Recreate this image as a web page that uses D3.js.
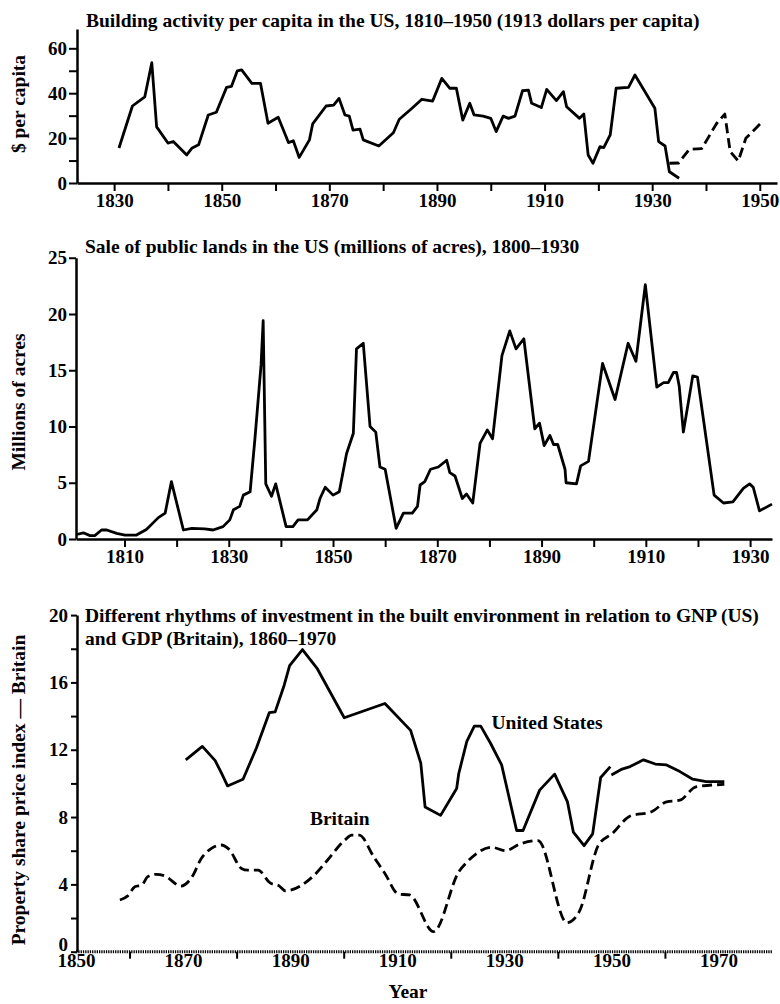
<!DOCTYPE html>
<html>
<head>
<meta charset="utf-8">
<script src="https://cdn.jsdelivr.net/npm/d3@7"></script>
<style>
  body { margin: 0; background: #fff; }
  svg text { font-family: "Liberation Serif", serif; font-weight: bold; fill: #000; }
</style>
</head>
<body>
<div id="chart"></div>
<script>
// --- building activity per capita, US (1913 dollars) ---
const buildYears = [1830.9, 1833.4, 1835.7, 1837.0, 1837.9, 1840.0, 1841.0, 1843.5, 1844.5, 1845.7,
    1847.5, 1849.0, 1850.9, 1851.8, 1852.9, 1853.7, 1855.6, 1857.2, 1858.6, 1860.5,
    1862.4, 1863.3, 1864.4, 1866.3, 1866.9, 1869.4, 1870.8, 1871.8, 1872.9, 1873.7,
    1874.4, 1875.7, 1876.3, 1879.2, 1881.9, 1883.0, 1885.0, 1887.2, 1889.2, 1890.9,
    1892.4, 1893.6, 1894.8, 1896.1, 1896.9, 1898.6, 1900.0, 1901.0, 1902.3, 1903.3,
    1904.5, 1905.9, 1907.0, 1907.6, 1909.4, 1910.4, 1912.2, 1913.5, 1914.1, 1916.5,
    1917.3, 1918.1, 1919.0, 1920.3, 1921.0, 1922.2, 1923.3, 1925.6, 1926.8, 1930.5,
    1931.2, 1932.4, 1933.2, 1935.0];
const buildValues = [15.6, 34.3, 38.4, 53.6, 25.0, 17.8, 18.5, 12.5, 15.6, 17.0,
    30.3, 31.5, 42.6, 43.0, 50.0, 50.4, 44.4, 44.4, 26.6, 29.3,
    18.0, 18.8, 11.4, 19.2, 26.3, 34.3, 34.7, 37.7, 30.3, 29.8,
    23.6, 24.0, 19.2, 16.5, 22.4, 28.4, 32.5, 37.3, 36.5, 46.6,
    42.2, 42.3, 28.0, 35.5, 30.3, 29.8, 28.8, 22.9, 29.8, 28.8,
    29.8, 41.1, 41.4, 35.5, 33.6, 41.7, 36.7, 40.7, 34.0, 28.8,
    30.7, 12.5, 8.8, 16.2, 15.8, 21.4, 42.2, 42.6, 48.1, 33.3,
    18.4, 16.5, 5.0, 2.1];
const buildLateYears = [1933.2, 1934.9, 1936.9, 1939.2, 1942.0, 1943.5, 1944.5, 1946.0, 1947.4, 1950.3];
const buildLateValues = [8.8, 8.9, 15.0, 15.3, 26.6, 30.7, 14.0, 9.8, 19.9, 26.9];

// --- sale of public lands, US (millions of acres) ---
const landYears = [1800.8, 1802.1, 1803.4, 1804.3, 1805.6, 1806.6, 1808.5, 1810.1, 1812.3, 1814.2,
    1816.5, 1817.8, 1819.0, 1821.3, 1822.9, 1825.4, 1827.0, 1828.9, 1830.2, 1830.9,
    1832.1, 1832.8, 1834.1, 1835.0, 1836.2, 1836.6, 1837.1, 1838.2, 1839.0, 1841.0,
    1842.3, 1843.3, 1845.1, 1846.9, 1847.5, 1848.5, 1850.0, 1851.2, 1852.6, 1853.9,
    1854.5, 1855.8, 1857.1, 1858.2, 1859.0, 1860.0, 1862.1, 1863.5, 1865.2, 1866.2,
    1866.7, 1867.6, 1868.7, 1870.2, 1871.8, 1872.4, 1873.4, 1874.8, 1875.6, 1876.8,
    1878.2, 1879.6, 1880.6, 1882.4, 1883.9, 1885.1, 1886.6, 1888.7, 1889.6, 1890.5,
    1891.6, 1892.3, 1893.1, 1894.5, 1894.7, 1896.7, 1897.5, 1899.0, 1901.7, 1904.1,
    1906.6, 1908.1, 1909.9, 1912.1, 1913.4, 1914.3, 1915.3, 1915.9, 1916.4, 1917.2,
    1919.0, 1919.9, 1923.1, 1924.9, 1926.7, 1928.7, 1929.9, 1930.6, 1931.8, 1934.2];
const landValues = [0.4, 0.55, 0.3, 0.3, 0.8, 0.8, 0.5, 0.35, 0.35, 0.85,
    1.9, 2.3, 5.1, 0.8, 0.95, 0.9, 0.8, 1.1, 1.7, 2.6,
    2.9, 3.9, 4.2, 8.8, 15.5, 19.4, 4.9, 3.8, 4.9, 1.1,
    1.1, 1.7, 1.7, 2.6, 3.6, 4.6, 3.9, 4.2, 7.6, 9.4,
    16.9, 17.4, 10.0, 9.5, 6.4, 6.2, 0.95, 2.3, 2.3, 2.9,
    4.8, 5.1, 6.2, 6.4, 7.0, 5.9, 5.6, 3.6, 4.0, 3.2,
    8.5, 9.7, 8.9, 16.3, 18.5, 16.9, 17.8, 9.8, 10.3, 8.3,
    9.2, 8.4, 8.4, 6.2, 5.0, 4.9, 6.5, 6.9, 15.6, 12.4,
    17.4, 15.8, 22.6, 13.5, 13.9, 13.9, 14.8, 14.8, 13.6, 9.5,
    14.5, 14.4, 3.9, 3.2, 3.3, 4.5, 4.9, 4.6, 2.5, 3.1];

// --- property share price index ---
const usYears = [1870.5, 1873.6, 1876.0, 1877.2, 1878.3, 1881.2, 1883.7, 1886.1, 1887.2, 1888.9,
    1889.9, 1892.3, 1895.1, 1900.1, 1907.7, 1912.5, 1914.4, 1915.2, 1918.1, 1921.1,
    1921.5, 1923.0, 1924.4, 1925.6, 1927.4, 1929.5, 1932.3, 1933.5, 1936.6, 1939.4,
    1941.8, 1942.9, 1944.9, 1946.5, 1948.0, 1949.8];
const usValues = [11.4, 12.2, 11.35, 10.6, 9.85, 10.25, 12.1, 14.2, 14.25, 15.85,
    17.0, 17.95, 16.8, 13.9, 14.75, 13.15, 11.2, 8.6, 8.1, 9.7,
    10.6, 12.5, 13.4, 13.4, 12.4, 11.1, 7.2, 7.2, 9.6, 10.55,
    8.9, 7.1, 6.3, 7.0, 10.35, 11.0];
const usLateYears = [1950.0, 1952.0, 1953.5, 1956.0, 1958.2, 1960.3, 1962.8, 1965.2, 1967.7, 1971.1];
const usLateValues = [10.5, 10.85, 11.0, 11.4, 11.15, 11.1, 10.7, 10.25, 10.1, 10.1];

const ukYears = [1858.2, 1859.6, 1861.0, 1862.3, 1863.4, 1865.0, 1866.6, 1869.6, 1871.7, 1873.4,
    1875.3, 1877.1, 1878.6, 1880.9, 1882.1, 1884.0, 1886.2, 1888.0, 1889.1, 1894.5,
    1897.0, 1900.2, 1901.5, 1902.9, 1905.6, 1907.7, 1910.2, 1912.3, 1916.8, 1921.5,
    1923.1, 1927.7, 1930.2, 1932.9, 1936.3, 1941.7, 1944.0, 1947.6, 1950.2, 1953.5,
    1957.5, 1960.3, 1962.8, 1965.8, 1971.1];
const ukValues = [3.07, 3.3, 3.86, 3.96, 4.46, 4.6, 4.5, 3.9, 4.46, 5.54,
    6.14, 6.34, 6.08, 4.95, 4.85, 4.85, 4.1, 3.9, 3.62, 4.55,
    5.45, 6.63, 6.93, 6.93, 5.64, 4.65, 3.43, 3.37, 1.19, 4.75,
    5.35, 6.2, 6.0, 6.4, 6.6, 1.72, 2.38, 6.34, 7.03, 8.06,
    8.32, 8.9, 9.0, 9.8, 9.94];

const width = 780, height = 1004;
const svg = d3.select("#chart").append("svg")
    .attr("width", width)
    .attr("height", height);

const zip = (xs, ys) => xs.map((x, i) => ({ x: x, y: ys[i] }));

function styleAxis(g) {
    g.selectAll("path.domain").attr("stroke", "#000").attr("stroke-width", 2.5);
    g.selectAll(".tick line").attr("stroke", "#000").attr("stroke-width", 2);
    g.selectAll("text").attr("font-size", 19);
}

function drawLine(x, y, data, dashed, curve) {
    svg.append("path")
        .datum(data)
        .attr("fill", "none")
        .attr("stroke", "#000")
        .attr("stroke-width", 2.8)
        .attr("stroke-linejoin", "round")
        .attr("stroke-dasharray", dashed ? "10,5" : null)
        .attr("d", d3.line().x(d => x(d.x)).y(d => y(d.y)).curve(curve || d3.curveLinear));
}

function yLabel(text, cy) {
    svg.append("text")
        .attr("transform", `translate(25,${cy}) rotate(-90)`)
        .attr("text-anchor", "middle")
        .attr("font-size", 19.5)
        .text(text);
}

// ---------- panel 1 ----------
const x1 = d3.scaleLinear().domain([1823.1, 1953.2]).range([77, 777]);
const y1 = d3.scaleLinear().domain([0, 68.6]).range([183, 29]);

svg.append("g").attr("transform", "translate(0,183)")
    .call(d3.axisBottom(x1).tickValues(d3.range(1830, 1951, 10))
        .tickFormat(d => (d - 1830) % 20 === 0 ? d : "").tickSize(8).tickSizeOuter(0).tickPadding(3))
    .call(styleAxis);
svg.append("g").attr("transform", "translate(77,0)")
    .call(d3.axisLeft(y1).tickValues(d3.range(0, 61, 10))
        .tickFormat(d => d % 20 === 0 ? d : "").tickSize(8).tickSizeOuter(0).tickPadding(2))
    .call(styleAxis);

drawLine(x1, y1, zip(buildYears, buildValues), false);
drawLine(x1, y1, zip(buildLateYears, buildLateValues), true);

svg.append("text").attr("x", 86).attr("y", 27).attr("font-size", 19.5)
    .text("Building activity per capita in the US, 1810–1950 (1913 dollars per capita)");
yLabel("$ per capita", 104);

// ---------- panel 2 ----------
const x2 = d3.scaleLinear().domain([1800.7, 1934.2]).range([76, 772]);
const y2 = d3.scaleLinear().domain([0, 25]).range([539, 257.75]);

svg.append("g").attr("transform", "translate(0,539)")
    .call(d3.axisBottom(x2).tickValues(d3.range(1810, 1931, 10))
        .tickFormat(d => (d - 1810) % 20 === 0 ? d : "").tickSize(8).tickSizeOuter(0).tickPadding(3))
    .call(styleAxis);
svg.append("g").attr("transform", "translate(76,0)")
    .call(d3.axisLeft(y2).tickValues(d3.range(0, 26, 5)).tickSize(7).tickSizeOuter(0).tickPadding(2))
    .call(styleAxis);

drawLine(x2, y2, zip(landYears, landValues), false);

svg.append("text").attr("x", 85).attr("y", 253).attr("font-size", 19.5)
    .text("Sale of public lands in the US (millions of acres), 1800–1930");
yLabel("Millions of acres", 402);

// ---------- panel 3 ----------
const x3 = d3.scaleLinear().domain([1850, 1980]).range([76, 772]);
const y3 = d3.scaleLinear().domain([0, 20]).range([951.7, 615.1]);

// dotted baseline
svg.append("line")
    .attr("x1", x3(1850)).attr("x2", x3(1980))
    .attr("y1", y3(0)).attr("y2", y3(0))
    .attr("stroke", "#000").attr("stroke-width", 3).attr("stroke-dasharray", "1.3,1");

const xMinor = svg.append("g").attr("transform", `translate(0,${y3(0)})`)
    .call(d3.axisBottom(x3).tickValues([1860, 1880, 1900, 1920, 1940, 1960])
        .tickFormat("").tickSize(7).tickSizeOuter(0))
    .call(styleAxis);
xMinor.select("path.domain").remove();

const xMajor = svg.append("g").attr("transform", `translate(0,${y3(0)})`)
    .call(d3.axisBottom(x3).tickValues([1850, 1870, 1890, 1910, 1930, 1950, 1970])
        .tickFormat(d3.format("d")).tickSize(0).tickPadding(2))
    .call(styleAxis);
xMajor.select("path.domain").remove();

const yAxis3 = svg.append("g").attr("transform", "translate(77,0)")
    .call(d3.axisLeft(y3).tickValues(d3.range(0, 21, 2))
        .tickFormat(d => d % 4 === 0 ? d : "").tickSize(6).tickSizeOuter(0).tickPadding(3))
    .call(styleAxis);
// lift the zero a little so it clears the 1850 label
yAxis3.selectAll(".tick text").filter(d => d === 0).attr("dy", "-0.05em");

drawLine(x3, y3, zip(usYears, usValues), false);
drawLine(x3, y3, zip(usLateYears, usLateValues), false);
drawLine(x3, y3, zip(ukYears, ukValues), true, d3.curveMonotoneX);

svg.append("text").attr("x", x3(1927.6)).attr("y", y3(13.23)).attr("font-size", 19.5).text("United States");
svg.append("text").attr("x", x3(1893.7)).attr("y", y3(7.53)).attr("font-size", 19.5).text("Britain");

svg.append("text").attr("x", 85).attr("y", 622).attr("font-size", 19.5)
    .text("Different rhythms of investment in the built environment in relation to GNP (US)");
svg.append("text").attr("x", 85).attr("y", 645).attr("font-size", 19.5)
    .text("and GDP (Britain), 1860–1970");

yLabel("Property share price index — Britain", 790);

svg.append("text").attr("x", 408).attr("y", 998).attr("text-anchor", "middle")
    .attr("font-size", 19.5).text("Year");
</script>
</body>
</html>
